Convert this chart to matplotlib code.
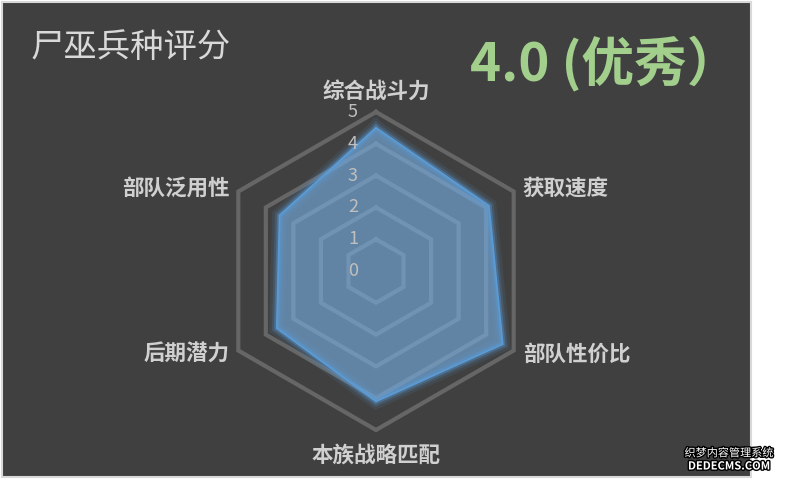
import numpy as np
import matplotlib
matplotlib.use("Agg")
import matplotlib.pyplot as plt
import matplotlib.patheffects as pe
from matplotlib.patches import Rectangle

plt.rcParams['font.family'] = ['Noto Sans CJK SC', 'DejaVu Sans']

# data (clockwise from top)
categories = ['综合战斗力', '获取速度', '部队性价比', '本族战略匹配', '后期潜力', '部队泛用性']
scores = [4.5, 4.1, 4.6, 4.1, 3.6, 3.5]
ring_levels = [1, 2, 3, 4, 5]
tick_values = [0, 1, 2, 3, 4, 5]
title = '尸巫兵种评分'
summary = '4.0 (优秀）'

BG = '#404040'
W, H = 789, 480

fig = plt.figure(figsize=(W / 100, H / 100), dpi=100)
fig.patch.set_facecolor('white')

# dark card with thin light border
fig.patches.append(Rectangle((2 / W, 3 / H), 749 / W, 475 / H, transform=fig.transFigure,
                             facecolor=BG, edgecolor='#d9d9d9', linewidth=1.5, zorder=-5))

# radar axes: centre (376, 271) px, r=5 -> 159 px
cx, cy, R = 376, 271, 159
ax = fig.add_axes([(cx - R) / W, (H - cy - R) / H, 2 * R / W, 2 * R / H], projection='polar')
ax.set_zorder(2)
ax.set_theta_offset(np.pi / 2)
ax.set_theta_direction(-1)
ax.set_ylim(0, 5)
ax.patch.set_alpha(0)
ax.spines['polar'].set_visible(False)
ax.grid(False)
ax.set_xticks([])
ax.set_yticks([])

n = len(categories)
angles = np.arange(n) * 2 * np.pi / n
closed = np.append(angles, angles[0])

# hexagonal grid rings
for lvl in ring_levels:
    ax.plot(closed, [lvl] * (n + 1), color='#666666', lw=3.0, zorder=1,
            solid_joinstyle='miter', clip_on=False)

# series: fill + glowing edge
vals = np.append(scores, scores[0])
ax.fill(closed, vals, color='#7ab2e8', alpha=0.6, lw=0, zorder=2)
ax.plot(closed, vals, color='#5b9bd5', lw=1.3, zorder=3, solid_joinstyle='miter',
        path_effects=[pe.Stroke(linewidth=11, foreground='#5b9bd5', alpha=0.1),
                      pe.Stroke(linewidth=7, foreground='#5b9bd5', alpha=0.18),
                      pe.Stroke(linewidth=4, foreground='#5b9bd5', alpha=0.35),
                      pe.Normal()])

# value axis labels
for v in tick_values:
    ax.annotate(str(v), xy=(0, v), xycoords='data', xytext=(-23, 0), textcoords='offset pixels',
                ha='center', va='center', color='#bfbfbf', fontsize=13, zorder=4,
                annotation_clip=False)

# category labels
label_pos = [((0, 21), 'center'), ((9, 3), 'left'), ((9, -4), 'left'),
             ((0, -25), 'center'), ((-9, -4), 'right'), ((-9, 3), 'right')]
for ang, name, (off, ha) in zip(angles, categories, label_pos):
    ax.annotate(name, xy=(ang, 5), xycoords='data', xytext=off, textcoords='offset pixels',
                ha=ha, va='center', color='#d0d0d0', fontsize=15.5, fontweight='bold',
                annotation_clip=False)

fig.text(30 / W, 1 - 47 / H, title, ha='left', va='center', color='#d9d9d9', fontsize=24)
fig.text(470 / W, 1 - 63 / H, summary, ha='left', va='center', color='#a2d08c',
         fontsize=38, fontweight='bold')

# site watermark
wm = dict(color='white', ha='center', va='center', fontsize=8,
          path_effects=[pe.withStroke(linewidth=2, foreground='black')])
fig.text(729 / W, 1 - 453 / H, '织梦内容管理系统', **wm)
fig.text(729 / W, 1 - 466 / H, 'DEDECMS.COM', fontweight='bold', **wm)

fig.savefig('out.png', dpi=100, facecolor=fig.get_facecolor())
